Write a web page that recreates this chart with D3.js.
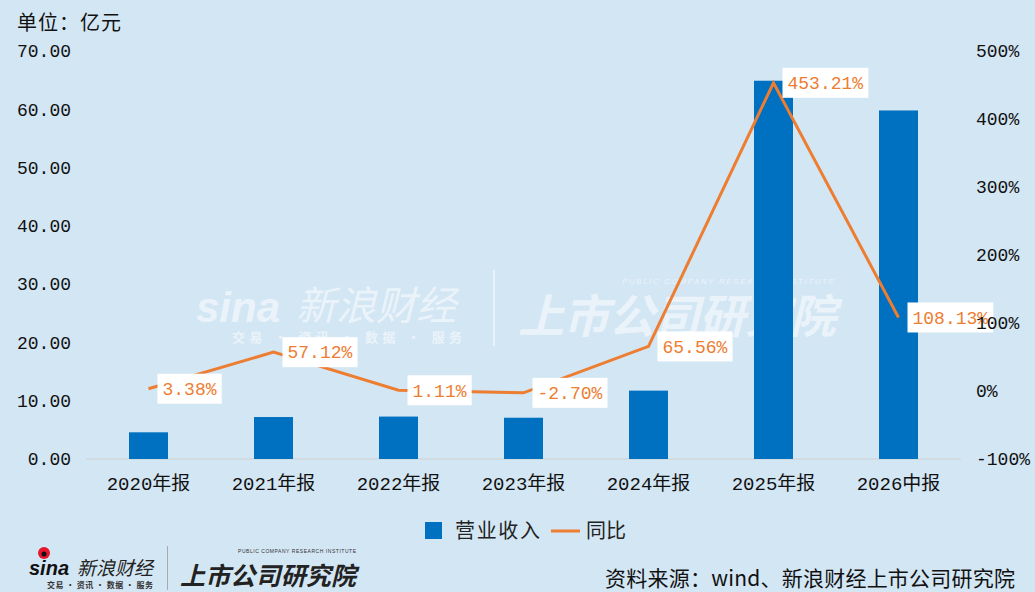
<!DOCTYPE html>
<html lang="zh-CN">
<head>
<meta charset="utf-8">
<title>营业收入及同比</title>
<script src="https://d3js.org/d3.v7.min.js"></script>
<style>
  body { margin: 0; background: #d3e6f4; }
  svg { display: block; }
  .num { font-family: "Liberation Mono", "Noto Sans CJK SC", monospace; }
  .cjk { font-family: "Noto Sans CJK SC", sans-serif; }
</style>
</head>
<body>
<div id="chart"></div>
<script>
// data
var categories = ["2020年报", "2021年报", "2022年报", "2023年报", "2024年报", "2025年报", "2026中报"];
var revenue = [4.58, 7.20, 7.28, 7.08, 11.73, 64.9, 59.8];
var yoy = [3.38, 57.12, 1.11, -2.70, 65.56, 453.21, 108.13];
var leftTicks = [0, 10, 20, 30, 40, 50, 60, 70];
var rightTicks = [-100, 0, 100, 200, 300, 400, 500];

var W = 1035, H = 592;
var margin = {top: 51, right: 74, bottom: 133, left: 86};
var orange = "#ed7d31", blue = "#0070c0";

var svg = d3.select("#chart").append("svg")
  .attr("width", W).attr("height", H);

svg.append("rect").attr("width", W).attr("height", H).attr("fill", "#d3e6f4");

var x = d3.scaleBand()
  .domain(categories)
  .range([margin.left, W - margin.right])
  .paddingInner(0.688)
  .paddingOuter(0.344);
var yL = d3.scaleLinear().domain([0, 70]).range([H - margin.bottom, margin.top]);
var yR = d3.scaleLinear().domain([-100, 500]).range([H - margin.bottom, margin.top]);
var cx = function(c) { return x(c) + x.bandwidth() / 2; };

// watermark
var wm = svg.append("g").attr("fill", "#ffffff").attr("opacity", 0.55);
wm.append("text").attr("x", 196).attr("y", 322)
  .attr("font-family", "Liberation Sans").attr("font-weight", "bold").attr("font-style", "italic")
  .attr("font-size", 42).text("sina");
wm.append("text").attr("class", "cjk").attr("x", 296).attr("y", 320)
  .attr("font-size", 40).attr("font-style", "italic").text("新浪财经");
wm.append("text").attr("class", "cjk").attr("x", 232).attr("y", 342)
  .attr("font-size", 13).attr("font-weight", "bold").text("交易 · 资讯 · 数据 · 服务")
  .attr("textLength", 230);
wm.append("rect").attr("x", 493).attr("y", 270).attr("width", 2).attr("height", 76);
wm.append("text").attr("class", "cjk").attr("x", 518).attr("y", 333)
  .attr("font-size", 46).attr("font-weight", "bold").attr("font-style", "italic")
  .attr("textLength", 318).text("上市公司研究院");
wm.append("text").attr("x", 622).attr("y", 284)
  .attr("font-family", "Liberation Sans").attr("font-size", 8).attr("font-style", "italic")
  .attr("textLength", 212).text("PUBLIC COMPANY RESEARCH INSTITUTE");

// baseline
svg.append("line")
  .attr("x1", margin.left).attr("x2", W - margin.right)
  .attr("y1", yL(0)).attr("y2", yL(0))
  .attr("stroke", "#d0d0d0").attr("stroke-width", 1);

// bars
svg.append("g").selectAll("rect")
  .data(categories)
  .join("rect")
    .attr("x", function(d) { return x(d); })
    .attr("y", function(d, i) { return yL(revenue[i]); })
    .attr("width", x.bandwidth())
    .attr("height", function(d, i) { return yL(0) - yL(revenue[i]); })
    .attr("fill", blue);

// line
var line = d3.line()
  .x(function(d, i) { return cx(categories[i]); })
  .y(function(d) { return yR(d); });
svg.append("path")
  .datum(yoy)
  .attr("d", line)
  .attr("fill", "none")
  .attr("stroke", orange)
  .attr("stroke-width", 3);

// labels
var lab = svg.append("g").selectAll("g")
  .data(yoy)
  .join("g")
    .attr("transform", function(d, i) {
      return "translate(" + (cx(categories[i]) + 9) + "," + yR(d) + ")";
    });
lab.append("rect").attr("fill", "#ffffff");
lab.append("text")
  .attr("class", "num")
  .attr("x", 5)
  .attr("dy", "0.35em")
  .attr("font-size", 18)
  .attr("fill", orange)
  .text(function(d) { return d.toFixed(2) + "%"; });
lab.each(function() {
  var g = d3.select(this);
  var b = g.select("text").node().getBBox();
  g.select("rect")
    .attr("x", 0).attr("y", -15)
    .attr("width", b.width + 10).attr("height", 30);
});

// left axis
var axL = svg.append("g")
  .attr("transform", "translate(71,0)")
  .call(d3.axisLeft(yL).tickValues(leftTicks).tickFormat(d3.format(".2f")).tickSize(0).tickPadding(0));
axL.select(".domain").remove();
axL.selectAll("text").attr("class", "num").attr("font-size", 18).attr("fill", "#111");

// right axis
var axR = svg.append("g")
  .attr("transform", "translate(976,0)")
  .call(d3.axisRight(yR).tickValues(rightTicks).tickFormat(function(d) { return d + "%"; }).tickSize(0).tickPadding(0));
axR.select(".domain").remove();
axR.selectAll("text").attr("class", "num").attr("font-size", 18).attr("fill", "#111");

// category axis
var axX = svg.append("g")
  .attr("transform", "translate(0," + (yL(0) + 17) + ")")
  .call(d3.axisBottom(x).tickSize(0).tickPadding(0));
axX.select(".domain").remove();
axX.selectAll("text").attr("class", "num").attr("font-size", 19).attr("fill", "#111");

// unit
svg.append("text").attr("class", "cjk").attr("x", 17).attr("y", 30)
  .attr("font-size", 20).attr("fill", "#111").attr("textLength", 104).text("单位：亿元");

// legend
var lg = svg.append("g");
lg.append("rect").attr("x", 425).attr("y", 522).attr("width", 17).attr("height", 17).attr("fill", blue);
lg.append("text").attr("class", "cjk").attr("x", 455).attr("y", 538).attr("font-size", 20)
  .attr("fill", "#222").attr("textLength", 85).text("营业收入");
lg.append("line").attr("x1", 551).attr("x2", 580).attr("y1", 531).attr("y2", 531)
  .attr("stroke", orange).attr("stroke-width", 3);
lg.append("text").attr("class", "cjk").attr("x", 586).attr("y", 538).attr("font-size", 20)
  .attr("fill", "#222").text("同比");

// source
svg.append("text").attr("class", "cjk").attr("x", 1015).attr("y", 586)
  .attr("text-anchor", "end").attr("font-size", 21).attr("fill", "#111")
  .attr("textLength", 410)
  .text("资料来源：wind、新浪财经上市公司研究院");

// bottom logo
var lo = svg.append("g");
lo.append("circle").attr("cx", 44).attr("cy", 553).attr("r", 6).attr("fill", "#e6162d");
lo.append("circle").attr("cx", 44).attr("cy", 554).attr("r", 2.5).attr("fill", "#111");
lo.append("text").attr("x", 29).attr("y", 575)
  .attr("font-family", "Liberation Sans").attr("font-weight", "bold").attr("font-style", "italic")
  .attr("font-size", 20).attr("fill", "#111").text("sina");
lo.append("text").attr("class", "cjk").attr("x", 77).attr("y", 575)
  .attr("font-size", 19).attr("font-style", "italic").attr("fill", "#222").text("新浪财经");
lo.append("text").attr("class", "cjk").attr("x", 47).attr("y", 588)
  .attr("font-size", 8).attr("font-weight", "bold").attr("fill", "#333")
  .attr("textLength", 106).text("交易 · 资讯 · 数据 · 服务");
lo.append("rect").attr("x", 167).attr("y", 546).attr("width", 1).attr("height", 44).attr("fill", "#aaa");
lo.append("text").attr("class", "cjk").attr("x", 180).attr("y", 585)
  .attr("font-size", 25).attr("font-weight", "bold").attr("font-style", "italic")
  .attr("fill", "#222").attr("textLength", 176).text("上市公司研究院");
lo.append("text").attr("x", 238).attr("y", 553)
  .attr("font-family", "Liberation Sans").attr("font-size", 5).attr("fill", "#333")
  .attr("textLength", 118).text("PUBLIC COMPANY RESEARCH INSTITUTE");
</script>
</body>
</html>
